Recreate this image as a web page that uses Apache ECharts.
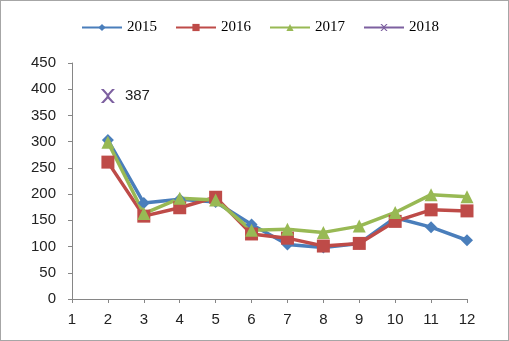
<!DOCTYPE html>
<html>
<head>
<meta charset="utf-8">
<script src="https://cdn.jsdelivr.net/npm/echarts@6/dist/echarts.min.js"></script>
<style>
html,body{margin:0;padding:0;background:#fff;}
#frame{position:absolute;left:0;top:0;width:507px;height:339px;border:1px solid #a6a6a6;}
#chart{position:absolute;left:0;top:0;width:509px;height:341px;}
</style>
</head>
<body>
<div id="frame"></div>
<div id="chart"></div>
<script>
const months = ['1','2','3','4','5','6','7','8','9','10','11','12'];
const yTicks = [0, 50, 100, 150, 200, 250, 300, 350, 400, 450];
const s2015 = [null, 303, 183, 190, 185, 142, 104, 98, 106, 155, 137, 112];
const s2016 = [null, 261, 158, 174, 194, 124, 116, 101, 106, 148, 170, 168];
const s2017 = [null, 299, 163, 192, 189, 131, 133, 127, 139, 165, 199, 195];
const s2018 = [null, 387, null, null, null, null, null, null, null, null, null, null];

const crossPath = 'path://M0,0 L2,0 L5,3.3 L8,0 L10,0 L6,4.5 L6,5.5 L10,10 L8,10 L5,6.7 L2,10 L0,10 L4,5.5 L4,4.5 Z';

const chart = echarts.init(document.getElementById('chart'));
chart.setOption({
  animation: false,
  legend: {
    top: 15,
    left: 76,
    itemWidth: 40,
    itemHeight: 9,
    itemGap: 18,
    textStyle: { fontFamily: 'Liberation Serif', fontSize: 15, color: '#000' },
    data: ['2015', '2016', '2017', '2018']
  },
  grid: { left: 72, right: 42, top: 63, bottom: 42 },
  xAxis: {
    type: 'category',
    data: months,
    boundaryGap: false,
    axisLine: { lineStyle: { color: '#868686', width: 1 } },
    axisTick: { alignWithLabel: true, length: 4, lineStyle: { color: '#868686' } },
    axisLabel: { fontFamily: 'Liberation Sans', fontSize: 15, color: '#222', margin: 13, interval: 0 }
  },
  yAxis: {
    type: 'value',
    min: yTicks[0],
    max: yTicks[yTicks.length - 1],
    interval: 50,
    splitLine: { show: false },
    axisLine: { show: true, lineStyle: { color: '#868686', width: 1 } },
    axisTick: { show: true, length: 4, lineStyle: { color: '#868686' } },
    axisLabel: { fontFamily: 'Liberation Sans', fontSize: 15, color: '#222', margin: 16 }
  },
  series: [
    {
      name: '2015', type: 'line', data: s2015,
      symbol: 'diamond', symbolSize: 12,
      lineStyle: { color: '#4a7ebb', width: 3.5 },
      itemStyle: { color: '#4a7ebb' }
    },
    {
      name: '2016', type: 'line', data: s2016,
      symbol: 'rect', symbolSize: 13,
      lineStyle: { color: '#be4b48', width: 3.5 },
      itemStyle: { color: '#be4b48' }
    },
    {
      name: '2017', type: 'line', data: s2017,
      symbol: 'triangle', symbolSize: 13,
      lineStyle: { color: '#98b954', width: 3.5 },
      itemStyle: { color: '#98b954' }
    },
    {
      name: '2018', type: 'line', data: s2018,
      symbol: crossPath, symbolSize: 14,
      lineStyle: { color: '#7d60a0', width: 3.5 },
      itemStyle: { color: '#7d60a0' },
      label: {
        show: true, position: 'right', distance: 10,
        fontFamily: 'Liberation Sans', fontSize: 15, color: '#222'
      }
    }
  ]
});
</script>
</body>
</html>
